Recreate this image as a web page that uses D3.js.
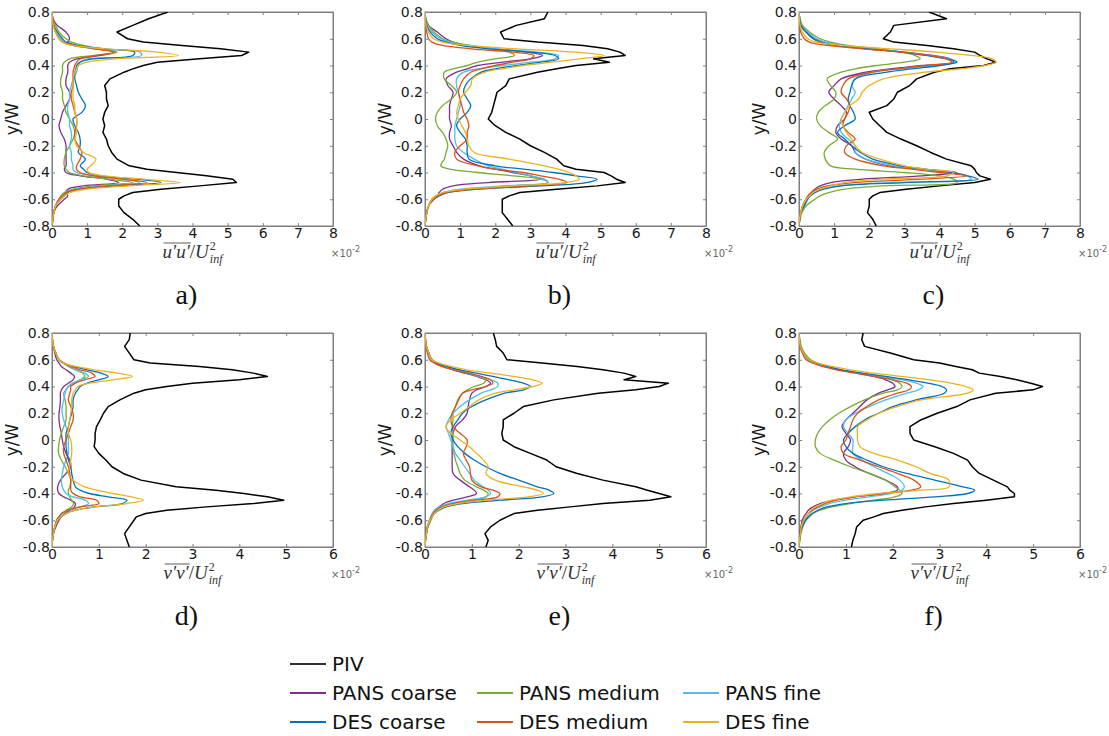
<!DOCTYPE html>
<html>
<head>
<meta charset="utf-8">
<script src="https://cdn.jsdelivr.net/npm/d3@7"></script>
<style>
  body { margin: 0; background: #fff; }
  text { font-family: "DejaVu Sans", sans-serif; }
</style>
</head>
<body>
<svg id="fig" width="1109" height="736"></svg>
<script>
// y/W positions shared by every profile (denser near the shear layers)
const yGrid = [-0.8,-0.75,-0.7,-0.65,-0.6, -0.575,-0.55,-0.525,-0.5,-0.475, -0.45,-0.425,-0.4,-0.375,-0.35,
  -0.3,-0.25,-0.2,-0.15,-0.1, -0.05,0,0.05,0.1,0.15, 0.2,0.25,0.3,0.35,0.375,
  0.4,0.425,0.45,0.475,0.5, 0.525,0.55,0.575,0.6,0.65, 0.7,0.75,0.8];

const yTicks = [-0.8,-0.6,-0.4,-0.2,0,0.2,0.4,0.6,0.8];
const uTicks = [0,1,2,3,4,5,6,7,8];
const vTicks = [0,1,2,3,4,5,6];

const seriesNames = ["PIV","PANS coarse","PANS medium","PANS fine","DES coarse","DES medium","DES fine"];
const seriesColors = ["#000000","#7E2F8E","#77AC30","#4DBEEE","#0072BD","#D95319","#EDB120"];

// ---- panel a : u'u'
const aPIV = [2.5,2.3,2.05,1.9,1.9, 2.05,2.3,3.1,4.2,5.25, 5.15,4.4,3.55,2.7,2.2, 1.85,1.7,1.6,1.55,1.45, 1.5,1.45,1.5,1.6,1.55, 1.55,1.5,1.65,2.05,2.3, 2.6,3.0,4.2,5.4,5.6, 4.8,3.7,2.6,2.15,1.85, 2.3,2.75,3.3];
const aPC = [0,0.03,0.05,0.15,0.35, 0.45,0.4,0.45,0.9,1.9, 1.55,0.8,0.4,0.35,0.4, 0.4,0.4,0.4,0.35,0.25, 0.2,0.25,0.3,0.4,0.5, 0.5,0.4,0.4,0.45,0.45, 0.45,0.5,0.7,1.4,1.8, 1.2,0.7,0.45,0.5,0.4, 0.15,0.03,0];
const aPM = [0,0.02,0.05,0.1,0.2, 0.25,0.35,0.6,1.2,2.3, 1.6,0.9,0.5,0.4,0.35, 0.35,0.4,0.5,0.6,0.65, 0.6,0.5,0.4,0.35,0.3, 0.3,0.25,0.25,0.3,0.3, 0.3,0.35,0.5,1.2,1.85, 1.4,0.9,0.55,0.4,0.2, 0.1,0.02,0];
const aPF = [0,0.02,0.05,0.1,0.2, 0.3,0.4,0.7,1.5,2.5, 2.0,1.2,0.7,0.6,0.6, 0.55,0.55,0.5,0.55,0.55, 0.5,0.5,0.45,0.45,0.5, 0.5,0.55,0.6,0.7,0.72, 0.75,0.8,1.0,2.55,2.5, 1.3,0.6,0.35,0.25,0.1, 0.05,0.02,0];
const aDC = [0,0.02,0.05,0.1,0.25, 0.35,0.45,0.8,1.8,3.1, 2.4,1.4,1.0,0.9,0.8, 0.95,0.75,0.8,0.8,0.75, 0.65,0.6,0.85,0.95,0.85, 0.75,0.7,0.65,0.65,0.68, 0.7,0.8,1.2,2.3,2.35, 1.5,0.7,0.4,0.3,0.15, 0.05,0.02,0];
const aDM = [0,0.02,0.05,0.1,0.2, 0.3,0.4,0.8,1.6,2.7, 2.0,1.2,0.8,0.7,0.7, 0.8,0.85,0.75,0.65,0.65, 0.7,0.7,0.65,0.6,0.55, 0.55,0.6,0.6,0.6,0.62, 0.65,0.7,0.8,1.3,1.75, 1.3,0.6,0.3,0.2,0.1, 0.05,0.02,0];
const aDF = [0,0.02,0.05,0.1,0.25, 0.35,0.5,1.0,2.2,3.65, 2.6,1.5,1.05,1.0,1.1, 1.25,0.9,0.7,0.65,0.7, 0.7,0.7,0.65,0.65,0.6, 0.6,0.6,0.6,0.65,0.7, 0.75,1.0,1.8,3.6,3.0, 1.5,0.6,0.3,0.2,0.1, 0.03,0.01,0];

// ---- panel b : u'u'
const bPIV = [2.5,2.35,2.2,2.2,2.2, 2.4,2.7,3.75,4.9,5.7, 5.45,5.3,5.1,4.3,3.95, 3.75,3.4,3.0,2.7,2.3, 2.0,1.8,1.9,1.95,2.0, 2.05,2.3,2.4,3.2,3.75, 4.3,5.25,4.8,5.7,5.55, 5.2,4.5,3.2,2.25,2.15, 2.6,3.4,3.5];
const bPC = [0,0.02,0.05,0.1,0.2, 0.35,0.4,0.5,0.8,1.8, 3.3,3.0,2.5,2.0,1.55, 1.1,0.9,0.8,0.7,0.7, 0.75,0.7,0.7,0.7,0.75, 0.8,0.65,0.6,0.9,1.2, 1.5,2.2,3.0,3.35,2.9, 2.0,1.2,0.8,0.6,0.35, 0.1,0.02,0];
const bPM = [0,0.02,0.05,0.1,0.2, 0.35,0.6,1.3,2.5,3.5, 3.3,2.5,1.5,0.7,0.45, 0.55,0.6,0.65,0.6,0.5, 0.35,0.3,0.35,0.5,0.75, 0.9,0.75,0.55,0.55,0.8, 1.2,1.5,2.0,2.55,2.4, 1.9,1.3,0.8,0.5,0.25, 0.1,0.02,0];
const bPF = [0,0.02,0.05,0.1,0.25, 0.35,0.5,1.0,2.2,3.5, 3.4,3.0,2.6,2.2,1.8, 1.4,1.1,0.9,0.85,0.85, 0.85,0.9,0.95,1.0,1.0, 0.95,0.9,0.9,1.1,1.5, 2.2,3.0,3.7,3.8,3.2, 2.0,1.1,0.7,0.45,0.2, 0.05,0.02,0];
const bDC = [0,0.02,0.05,0.1,0.25, 0.4,0.65,1.5,3.3,4.6, 4.9,4.3,3.65,2.8,2.0, 1.25,1.2,1.2,1.15,1.0, 0.9,1.0,1.2,1.3,1.2, 1.1,1.15,1.3,1.6,2.0, 2.6,3.3,3.8,3.7,3.0, 1.8,1.0,0.6,0.35,0.15, 0.05,0.02,0];
const bDM = [0,0.02,0.05,0.1,0.25, 0.35,0.6,1.4,3.0,4.05, 3.8,3.3,2.8,2.0,1.5, 0.9,0.85,1.0,1.2,1.2, 1.25,1.2,1.1,1.05,1.0, 0.95,1.0,1.1,1.3,1.6, 2.0,2.5,3.0,3.1,2.5, 1.3,0.5,0.2,0.1,0.05, 0.03,0.01,0];
const bDF = [0,0.02,0.05,0.1,0.2, 0.3,0.5,1.1,2.5,4.0, 4.4,4.3,4.1,3.8,3.4, 2.4,1.4,1.25,1.2,1.15, 1.05,0.95,0.9,0.95,1.0, 1.15,1.3,1.35,1.7,2.2, 2.8,3.6,4.4,5.1,4.3, 2.6,1.2,0.5,0.25,0.1, 0.03,0.01,0];

// ---- panel c : u'u'
const cPIV = [2.2,2.1,1.95,2.0,2.0, 2.1,2.3,3.05,4.0,5.0, 5.45,5.15,5.05,5.0,4.9, 4.2,3.75,3.35,2.9,2.5, 2.3,2.1,2.0,2.5,2.7, 2.8,3.15,3.35,3.85,4.3, 5.25,5.6,5.35,5.15,5.0, 4.4,3.65,2.7,2.4,2.6, 2.7,4.2,3.7];
const cPC = [0,0.02,0.05,0.1,0.2, 0.28,0.35,0.45,0.6,0.9, 1.8,3.5,4.5,3.5,2.6, 1.9,1.6,1.5,1.2,1.05, 1.1,1.3,1.35,1.2,1.0, 0.85,1.0,1.2,1.9,2.6, 3.5,4.4,4.3,3.8,3.0, 2.1,1.2,0.7,0.45,0.2, 0.05,0.02,0];
const cPM = [0,0.03,0.08,0.2,0.45, 0.6,0.85,1.3,2.4,4.5, 4.4,4.0,3.0,1.6,0.9, 0.75,0.72,0.85,1.1,0.85, 0.6,0.5,0.55,0.75,1.0, 1.05,0.9,0.8,1.2,1.6, 2.2,3.0,3.45,3.3,2.9, 2.2,1.4,0.9,0.6,0.3, 0.1,0.03,0];
const cPF = [0,0.02,0.05,0.12,0.22, 0.3,0.4,0.6,1.1,2.6, 4.9,4.8,4.3,3.5,2.7, 1.9,1.6,1.6,1.4,1.2, 1.15,1.2,1.3,1.4,1.5, 1.6,1.5,1.6,2.1,2.9, 3.8,4.5,4.3,3.7,3.0, 2.0,1.2,0.75,0.5,0.25, 0.05,0.02,0];
const cDC = [0,0.02,0.05,0.15,0.25, 0.33,0.45,0.7,1.2,3.0, 5.1,4.8,4.3,3.6,2.9, 2.1,1.75,1.5,1.3,1.1, 1.3,1.6,1.55,1.45,1.4, 1.45,1.5,1.6,2.5,3.2, 4.0,4.5,4.2,3.6,2.9, 1.9,1.0,0.6,0.4,0.2, 0.05,0.02,0];
const cDM = [0,0.02,0.05,0.1,0.2, 0.25,0.35,0.5,0.8,1.6, 3.5,4.8,4.0,3.2,2.4, 1.6,1.3,1.35,1.6,1.4, 1.25,1.3,1.4,1.45,1.35, 1.2,1.25,1.4,2.1,2.8, 3.6,4.35,4.2,3.7,2.9, 1.8,0.8,0.3,0.15,0.05, 0.02,0.01,0];
const cDF = [0,0.01,0.05,0.1,0.2, 0.3,0.4,0.6,0.9,1.3, 2.4,4.2,4.4,3.6,3.0, 2.3,1.8,1.6,1.5,1.35, 1.25,1.2,1.3,1.45,1.7, 1.8,2.0,2.4,3.6,4.6, 5.3,5.6,5.5,4.9,3.9, 2.6,1.2,0.5,0.25,0.1, 0.03,0.01,0];

// ---- panel d : v'v'
const dPIV = [1.65,1.6,1.55,1.65,1.75, 1.8,2.0,2.45,3.3,4.3, 4.95,4.6,4.1,3.5,2.65, 1.9,1.52,1.28,1.15,1.0, 0.9,0.92,0.92,0.95,1.03, 1.1,1.2,1.45,1.75,2.0, 2.45,3.0,4.0,4.6,4.3, 3.85,3.15,2.1,1.75,1.65, 1.55,1.65,1.67];
const dPC = [0,0.01,0.03,0.08,0.15, 0.2,0.28,0.38,0.48,0.5, 0.4,0.25,0.15,0.12,0.12, 0.18,0.3,0.4,0.38,0.3, 0.25,0.22,0.2,0.17,0.15, 0.15,0.17,0.18,0.18,0.2, 0.25,0.35,0.45,0.48,0.4, 0.3,0.2,0.15,0.1,0.06, 0.03,0.01,0];
const dPM = [0,0.01,0.03,0.06,0.1, 0.15,0.22,0.3,0.42,0.46, 0.42,0.38,0.35,0.35,0.38, 0.4,0.35,0.28,0.2,0.14, 0.14,0.16,0.2,0.25,0.3, 0.3,0.3,0.28,0.25,0.3, 0.35,0.45,0.6,0.7,0.65, 0.5,0.35,0.25,0.15,0.08, 0.03,0.01,0];
const dPF = [0,0.01,0.03,0.06,0.1, 0.15,0.22,0.35,0.6,0.78, 0.7,0.45,0.3,0.25,0.22, 0.2,0.22,0.25,0.3,0.35, 0.35,0.35,0.35,0.3,0.25, 0.22,0.22,0.25,0.28,0.3, 0.35,0.45,0.6,0.78,0.7, 0.5,0.35,0.25,0.15,0.08, 0.03,0.01,0];
const dDC = [0,0.01,0.03,0.06,0.12, 0.2,0.3,0.5,0.9,1.5, 1.6,1.2,0.8,0.6,0.5, 0.45,0.42,0.4,0.35,0.32, 0.3,0.3,0.3,0.35,0.38, 0.42,0.45,0.45,0.5,0.55, 0.6,0.75,1.0,1.2,1.05, 0.75,0.45,0.25,0.15,0.08, 0.03,0.01,0];
const dDM = [0,0.01,0.03,0.06,0.1, 0.15,0.2,0.35,0.6,1.0, 0.95,0.6,0.45,0.4,0.4, 0.4,0.38,0.35,0.3,0.25, 0.25,0.3,0.35,0.4,0.45, 0.45,0.4,0.35,0.38,0.4, 0.4,0.5,0.7,0.92,0.85, 0.6,0.4,0.25,0.15,0.08, 0.03,0.01,0];
const dDF = [0,0.01,0.03,0.06,0.12, 0.2,0.3,0.5,0.9,1.6, 1.95,1.7,1.3,0.95,0.7, 0.45,0.35,0.38,0.4,0.42, 0.42,0.4,0.35,0.35,0.38, 0.4,0.42,0.42,0.45,0.5, 0.55,0.8,1.3,1.72,1.4, 0.9,0.5,0.25,0.15,0.08, 0.03,0.01,0];

// ---- panel e : v'v'
const ePIV = [1.3,1.35,1.28,1.4,1.6, 1.75,1.9,2.4,3.1,3.8, 4.8,5.25,5.0,4.75,4.5, 3.8,3.25,2.8,2.6,2.25, 1.9,1.67,1.64,1.67,1.67, 1.9,2.1,2.75,3.7,4.5, 5.0,5.2,4.25,4.5,4.25, 3.8,3.25,2.5,1.75,1.67, 1.53,1.5,1.46];
const ePC = [0,0.01,0.03,0.06,0.12, 0.15,0.18,0.22,0.3,0.4, 0.6,0.9,1.1,1.05,0.95, 0.75,0.6,0.58,0.58,0.58, 0.58,0.58,0.6,0.65,0.8, 0.9,0.92,0.95,1.0,1.1, 1.3,1.4,1.3,1.1,0.85, 0.6,0.4,0.25,0.15,0.08, 0.03,0.01,0];
const ePM = [0,0.01,0.03,0.06,0.12, 0.15,0.18,0.25,0.35,0.6, 1.0,1.3,1.35,1.25,1.1, 0.85,0.75,0.7,0.65,0.62, 0.6,0.6,0.6,0.58,0.6, 0.6,0.65,0.7,0.8,0.9, 1.05,1.25,1.3,1.15,0.95, 0.7,0.45,0.25,0.15,0.08, 0.03,0.01,0];
const ePF = [0,0.01,0.03,0.05,0.1, 0.12,0.15,0.2,0.3,0.5, 0.9,1.3,1.4,1.35,1.25, 1.05,0.95,0.85,0.75,0.65, 0.6,0.55,0.5,0.45,0.5, 0.6,0.75,0.95,1.2,1.4, 1.55,1.55,1.4,1.15,0.9, 0.65,0.4,0.25,0.15,0.08, 0.03,0.01,0];
const eDC = [0,0.01,0.03,0.05,0.1, 0.15,0.2,0.3,0.45,0.8, 1.6,2.5,2.75,2.65,2.4, 2.0,1.6,1.3,1.05,0.85, 0.7,0.6,0.55,0.6,0.7, 0.8,1.0,1.3,1.7,2.1, 2.25,2.1,1.8,1.45,1.1, 0.75,0.45,0.25,0.15,0.08, 0.03,0.01,0];
const eDM = [0,0.01,0.03,0.05,0.1, 0.13,0.18,0.25,0.35,0.6, 1.1,1.55,1.6,1.45,1.2, 1.0,0.97,0.95,0.88,0.82, 0.88,0.9,0.75,0.6,0.55, 0.58,0.65,0.72,0.8,1.0, 1.3,1.45,1.4,1.2,0.9, 0.6,0.35,0.2,0.1,0.05, 0.02,0.01,0];
const eDF = [0,0.01,0.03,0.05,0.1, 0.15,0.2,0.28,0.4,0.7, 1.3,2.2,2.53,2.4,2.1, 1.5,1.3,1.35,1.25,1.1, 0.95,0.75,0.55,0.45,0.55, 0.75,0.95,1.15,1.5,1.9, 2.3,2.5,2.3,1.9,1.4, 0.9,0.55,0.3,0.15,0.08, 0.03,0.01,0];

// ---- panel f : v'v'
const fPIV = [1.12,1.15,1.2,1.23,1.37, 1.6,1.8,2.2,2.7,3.3, 4.0,4.6,4.6,4.5,4.45, 4.15,3.85,3.7,3.6,3.3, 2.9,2.45,2.37,2.37,2.6, 2.95,3.37,3.65,4.2,5.0, 5.2,4.95,4.65,4.3,3.85, 3.7,3.35,3.0,2.45,1.95, 1.4,1.34,1.37];
const fPC = [0,0.01,0.02,0.04,0.07, 0.1,0.15,0.2,0.3,0.45, 0.75,1.2,1.8,2.1,2.1, 1.85,1.5,1.2,1.0,0.95, 1.05,1.1,1.0,0.92,1.0, 1.15,1.3,1.45,1.7,1.9, 2.05,2.0,1.85,1.6,1.25, 0.85,0.55,0.35,0.2,0.1, 0.03,0.01,0];
const fPM = [0,0.02,0.04,0.08,0.15, 0.22,0.3,0.45,0.7,1.1, 1.6,2.05,2.2,2.15,2.05, 1.85,1.5,1.1,0.75,0.45, 0.35,0.35,0.4,0.5,0.65, 0.85,1.1,1.4,1.8,2.1, 2.2,2.15,2.0,1.7,1.3, 0.9,0.6,0.4,0.25,0.12, 0.05,0.02,0];
const fPF = [0,0.01,0.03,0.06,0.12, 0.16,0.22,0.3,0.45,0.65, 1.0,1.5,1.95,2.2,2.25, 2.15,1.9,1.6,1.35,1.15, 1.15,1.15,1.05,0.95,1.0, 1.2,1.5,1.85,2.3,2.55, 2.65,2.5,2.2,1.75,1.3, 0.85,0.55,0.35,0.2,0.1, 0.03,0.01,0];
const fDC = [0,0.01,0.03,0.07,0.14, 0.2,0.28,0.4,0.6,1.0, 1.8,2.9,3.6,3.75,3.5, 2.9,2.3,1.8,1.45,1.15, 1.0,0.95,1.05,1.2,1.4, 1.7,2.0,2.5,3.1,3.15, 3.05,2.75,2.35,1.85,1.35, 0.9,0.6,0.38,0.22,0.1, 0.03,0.01,0];
const fDM = [0,0.01,0.03,0.05,0.1, 0.15,0.2,0.28,0.4,0.55, 0.8,1.2,1.8,2.4,2.6, 2.45,2.1,1.7,1.3,0.95, 0.9,1.0,1.05,1.1,1.15, 1.25,1.45,1.7,2.1,2.35, 2.4,2.3,2.0,1.6,1.2, 0.8,0.5,0.3,0.15,0.07, 0.02,0.01,0];
const fDF = [0,0.01,0.03,0.05,0.1, 0.15,0.2,0.25,0.35,0.5, 0.7,1.1,1.7,2.6,3.2, 3.2,2.8,2.5,2.1,1.6, 1.3,1.25,1.25,1.25,1.45, 1.7,2.1,2.6,3.6,3.72, 3.55,3.25,2.8,2.2,1.6, 1.1,0.7,0.4,0.22,0.1, 0.03,0.01,0];

const panels = [
  {tag: "a", col: 0, row: 0, sym: "u", ticks: uTicks, lines: [aPIV, aPC, aPM, aPF, aDC, aDM, aDF]},
  {tag: "b", col: 1, row: 0, sym: "u", ticks: uTicks, lines: [bPIV, bPC, bPM, bPF, bDC, bDM, bDF]},
  {tag: "c", col: 2, row: 0, sym: "u", ticks: uTicks, lines: [cPIV, cPC, cPM, cPF, cDC, cDM, cDF]},
  {tag: "d", col: 0, row: 1, sym: "v", ticks: vTicks, lines: [dPIV, dPC, dPM, dPF, dDC, dDM, dDF]},
  {tag: "e", col: 1, row: 1, sym: "v", ticks: vTicks, lines: [ePIV, ePC, ePM, ePF, eDC, eDM, eDF]},
  {tag: "f", col: 2, row: 1, sym: "v", ticks: vTicks, lines: [fPIV, fPC, fPM, fPF, fDC, fDM, fDF]}
];

const colLeft = [52, 425, 799];
const rowTop = [12, 333];
const plotW = 281, plotH = 214;
const axisGrey = "#7f7f7f";

const svg = d3.select("#fig");

function xLabel(g, cx, y, sym) {
  const lab = g.append("g");
  const serif = "'Liberation Serif', serif";
  const t = lab.append("text")
    .attr("y", y)
    .attr("fill", "#333")
    .style("font-family", serif)
    .style("font-style", "italic")
    .style("font-size", "19px");
  const first = t.append("tspan").text(sym + "\u2032" + sym + "\u2032");
  t.append("tspan").style("font-style", "normal").text("/");
  t.append("tspan").text("U");
  const w1 = first.node().getComputedTextLength();
  const w = t.node().getComputedTextLength();
  lab.append("text").attr("x", w + 1).attr("y", y - 8)
    .attr("fill", "#333")
    .style("font-family", serif).style("font-size", "12px")
    .text("2");
  const sub = lab.append("text").attr("x", w + 1).attr("y", y + 5)
    .attr("fill", "#333")
    .style("font-family", serif).style("font-style", "italic").style("font-size", "12px")
    .text("inf");
  lab.append("line")
    .attr("x1", 1).attr("x2", w1 + 1)
    .attr("y1", y - 15).attr("y2", y - 15)
    .attr("stroke", "#333").attr("stroke-width", 0.8);
  const total = w + 1 + sub.node().getComputedTextLength();
  lab.attr("transform", `translate(${cx - total / 2},0)`);
}

panels.forEach(p => {
  const left = colLeft[p.col], top = rowTop[p.row];
  const xMax = p.ticks[p.ticks.length - 1];
  const x = d3.scaleLinear().domain([0, xMax]).range([left, left + plotW]);
  const y = d3.scaleLinear().domain([-0.8, 0.8]).range([top + plotH, top]);

  const g = svg.append("g").attr("class", "panel-" + p.tag);

  g.append("clipPath").attr("id", "clip-" + p.tag)
    .append("rect").attr("x", left).attr("y", top).attr("width", plotW).attr("height", plotH);

  // box
  g.append("rect")
    .attr("x", left).attr("y", top).attr("width", plotW).attr("height", plotH)
    .attr("fill", "none").attr("stroke", axisGrey).attr("stroke-width", 1);

  const xAxis = d3.axisBottom(x).tickValues(p.ticks).tickSizeInner(-3).tickSizeOuter(0).tickPadding(2)
    .tickFormat(d => String(d));
  const yAxis = d3.axisLeft(y).tickValues(yTicks).tickSizeInner(-3).tickSizeOuter(0).tickPadding(2)
    .tickFormat(d => String(d));

  g.append("g").attr("transform", `translate(0,${top + plotH})`).call(xAxis);
  g.append("g").attr("transform", `translate(${left},0)`).call(yAxis);
  g.append("g").attr("transform", `translate(0,${top})`)
    .call(d3.axisTop(x).tickValues(p.ticks).tickSizeInner(-3).tickSizeOuter(0).tickFormat(""));
  g.append("g").attr("transform", `translate(${left + plotW},0)`)
    .call(d3.axisRight(y).tickValues(yTicks).tickSizeInner(-3).tickSizeOuter(0).tickFormat(""));

  g.selectAll(".domain").attr("stroke", axisGrey);
  g.selectAll(".tick line").attr("stroke", axisGrey);
  g.selectAll(".tick text")
    .attr("fill", "#1a1a1a")
    .style("font-family", "'DejaVu Sans', sans-serif")
    .style("font-size", "14px");

  // profiles
  const curves = g.append("g").attr("clip-path", `url(#clip-${p.tag})`);
  p.lines.forEach((vals, i) => {
    const pts = yGrid.map((yy, k) => [vals[k], yy]);
    const line = d3.line()
      .x(d => x(d[0]))
      .y(d => y(d[1]))
      .curve(i === 0 ? d3.curveLinear : d3.curveCatmullRom.alpha(0.5));
    curves.append("path")
      .datum(pts)
      .attr("d", line)
      .attr("fill", "none")
      .attr("stroke", seriesColors[i])
      .attr("stroke-width", i === 0 ? 1.5 : 1.3)
      .attr("stroke-linejoin", "round");
  });

  // y label
  g.append("text")
    .attr("transform", `translate(${left - 34},${top + plotH / 2}) rotate(-90)`)
    .attr("text-anchor", "middle")
    .attr("fill", "#1a1a1a")
    .style("font-size", "17px")
    .text("y/W");

  // x label
  xLabel(g, left + plotW / 2, top + plotH + 32, p.sym);

  // exponent
  const ex = g.append("text")
    .attr("x", left + plotW - 2).attr("y", top + plotH + 31)
    .attr("fill", "#666")
    .style("font-size", "10px");
  ex.append("tspan").text("\u00d710");
  ex.append("tspan").attr("dy", -5).style("font-size", "8px").text("-2");

  // panel letter
  g.append("text")
    .attr("x", left + plotW / 2 - 6).attr("y", top + plotH + 78)
    .attr("text-anchor", "middle")
    .attr("fill", "#111")
    .style("font-family", "'Liberation Serif', serif")
    .style("font-size", "28px")
    .text(p.tag + ")");
});

// legend
const legendItems = [
  {i: 0, x: 290, y: 664},
  {i: 1, x: 290, y: 693},
  {i: 4, x: 290, y: 722},
  {i: 2, x: 477, y: 693},
  {i: 5, x: 477, y: 722},
  {i: 3, x: 683, y: 693},
  {i: 6, x: 683, y: 722}
];
const leg = svg.append("g").attr("class", "legend");
legendItems.forEach(it => {
  leg.append("line")
    .attr("x1", it.x).attr("x2", it.x + 36)
    .attr("y1", it.y).attr("y2", it.y)
    .attr("stroke", it.i === 0 ? "#333" : seriesColors[it.i])
    .attr("stroke-width", 2);
  leg.append("text")
    .attr("x", it.x + 42).attr("y", it.y)
    .attr("dy", "0.36em")
    .attr("fill", "#111")
    .style("font-size", "20px")
    .text(seriesNames[it.i]);
});
</script>
</body>
</html>
